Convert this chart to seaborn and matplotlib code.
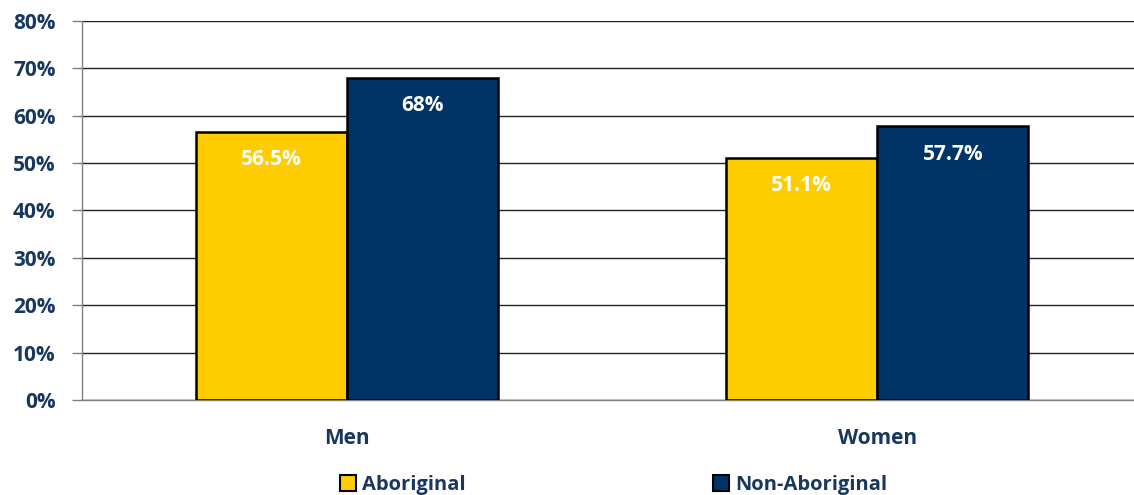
import pandas as pd
import numpy as np
import matplotlib.pyplot as plt
import seaborn as sns
from matplotlib.lines import Line2D

groups = ["Men", "Women"]
populations = ["Aboriginal", "Non-Aboriginal"]
aboriginal = [56.5, 51.1]
non_aboriginal = [68.0, 57.7]
value_labels = ["56.5%", "51.1%", "68%", "57.7%"]
yticks = [0, 10, 20, 30, 40, 50, 60, 70, 80]

df = pd.DataFrame({
    "group": groups * 2,
    "population": [populations[0]] * 2 + [populations[1]] * 2,
    "rate": aboriginal + non_aboriginal,
})

navy_text = "#17375E"
colors = ["#FFCC00", "#003366"]
fam = ["Open Sans", "DejaVu Sans"]

sns.set_style("white")
plt.rcParams["font.family"] = fam
plt.rcParams["font.weight"] = "bold"

fig = plt.figure(figsize=(11.34, 4.95), dpi=100)
ax = fig.add_axes([0.0723, 0.192, 0.935, 0.766])

sns.barplot(data=df, x="group", y="rate", hue="population", palette=colors,
            saturation=1, width=0.57, edgecolor="black", linewidth=1.8,
            ax=ax, legend=False, zorder=3)

ax.set_ylim(0, 80)
ax.set_xlim(-0.5, 1.5)
ax.set_yticks(yticks)
ax.set_yticklabels([f"{t}%" for t in yticks], color=navy_text,
                   fontsize=15, fontweight="bold")
ax.yaxis.grid(True, color="#222222", linewidth=1.0, zorder=0)
ax.set_axisbelow(True)

ax.set_xticks([0, 1])
ax.set_xticklabels(groups, color=navy_text, fontsize=15, fontweight="bold")
ax.set_xticks([-0.5, 0.5, 1.5], minor=True)
ax.tick_params(axis="x", which="major", length=0, pad=20)
ax.tick_params(axis="x", which="minor", length=8, color="#808080", width=1)
ax.tick_params(axis="y", length=7, color="#808080", width=1, pad=12, left=True)
ax.set_xlabel("")
ax.set_ylabel("")

for side in ["top", "right"]:
    ax.spines[side].set_visible(False)
for side in ["left", "bottom"]:
    ax.spines[side].set_color("#808080")
    ax.spines[side].set_linewidth(1)

i = 0
for container in ax.containers:
    for bar in container:
        h = bar.get_height()
        ax.annotate(value_labels[i], (bar.get_x() + bar.get_width() / 2, h),
                    xytext=(0, -20), textcoords="offset points",
                    ha="center", va="center", color="white",
                    fontsize=15, fontweight="bold", zorder=5)
        i += 1

handles = [Line2D([0], [0], marker="s", linestyle="", markersize=11,
                  markerfacecolor=c, markeredgecolor="black",
                  markeredgewidth=1.5) for c in colors]
leg = fig.legend(handles, populations, loc="lower left",
                 bbox_to_anchor=(0.282, -0.037), ncol=2, frameon=False,
                 handletextpad=0.2, columnspacing=12.2, handlelength=1.0,
                 prop={"family": fam, "weight": "bold", "size": 14.5})
for t in leg.get_texts():
    t.set_color(navy_text)

fig.savefig("out.png", dpi=100)
